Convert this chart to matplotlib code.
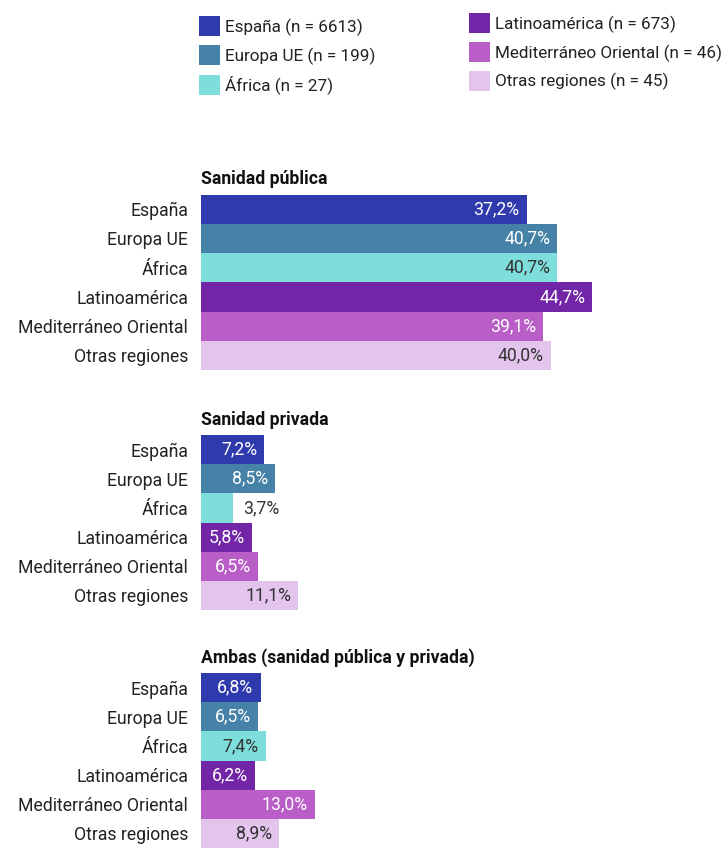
import matplotlib
matplotlib.use("Agg")
import matplotlib.pyplot as plt
from matplotlib.patches import Rectangle

plt.rcParams['font.family'] = ['Roboto', 'DejaVu Sans']

regions = ["España", "Europa UE", "África", "Latinoamérica",
           "Mediterráneo Oriental", "Otras regiones"]
sample_n = [6613, 199, 27, 673, 46, 45]
colors = ["#2f3aad", "#4682a8", "#7ddedc", "#7226a7", "#b85ec6", "#e2c4ec"]
dark_bar = [False, False, True, False, False, True]

titles = ["Sanidad pública", "Sanidad privada",
          "Ambas (sanidad pública y privada)"]
publica = [37.2, 40.7, 40.7, 44.7, 39.1, 40.0]
privada = [7.2, 8.5, 3.7, 5.8, 6.5, 11.1]
ambas = [6.8, 6.5, 7.4, 6.2, 13.0, 8.9]
groups = [publica, privada, ambas]

FS = 12.7
LFS = 12.3
W, H = 728, 849
fig = plt.figure(figsize=(W / 100, H / 100), dpi=100)
left_px = 201
px_per_pct = 8.75
# (top, bottom) in pixels of each block of bars
blocks = [(194.5, 370), (435, 610), (673, 848)]

for title, vals, (top, bot) in zip(titles, groups, blocks):
    ax = fig.add_axes([left_px / W, (H - bot) / H, (W - left_px) / W, (bot - top) / H])
    ax.barh(range(len(regions)), vals, height=1.0, color=colors, linewidth=0)
    ax.set_xlim(0, (W - left_px) / px_per_pct)
    ax.set_ylim(len(regions) - 0.5, -0.5)
    ax.set_yticks(range(len(regions)))
    ax.set_yticklabels(regions, fontsize=FS, color="#222222")
    ax.tick_params(axis='y', length=0, pad=13 * 0.72)
    ax.set_xticks([])
    for s in ax.spines.values():
        s.set_visible(False)
    ax.patch.set_alpha(0)
    ax.annotate(title, xy=(0, 1), xycoords='axes fraction', xytext=(0, 10),
                textcoords='offset pixels', ha='left', va='baseline',
                fontsize=FS, fontweight='bold', color="#111111")
    for i, v in enumerate(vals):
        lab = f"{v:.1f}".replace('.', ',') + '%'
        if v < 5:
            ax.annotate(lab, xy=(v, i), xytext=(10, 0), textcoords='offset pixels',
                        ha='left', va='center', fontsize=FS, color="#333333")
        else:
            ax.annotate(lab, xy=(v, i), xytext=(-7, 0), textcoords='offset pixels',
                        ha='right', va='center', fontsize=FS,
                        color="#333333" if dark_bar[i] else "white")

# Legend drawn in its own overlay axes (pixel layout units)
lax = fig.add_axes([0, 1 - 110 / H, 1, 110 / H])
lax.set_xlim(0, W)
lax.set_ylim(110, 0)
lax.axis('off')
leg_x = [199, 199, 199, 469, 469, 469]
leg_y = [26, 55, 84.5, 23, 52, 80.5]
for r, n, c, x, y in zip(regions, sample_n, colors, leg_x, leg_y):
    lax.add_patch(Rectangle((x, y - 10), 21, 20, facecolor=c, edgecolor='none'))
    lax.text(x + 26, y + 6, f"{r} (n = {n})", ha='left', va='baseline',
             fontsize=LFS, color="#222222")

fig.savefig("out.png", dpi=100)
